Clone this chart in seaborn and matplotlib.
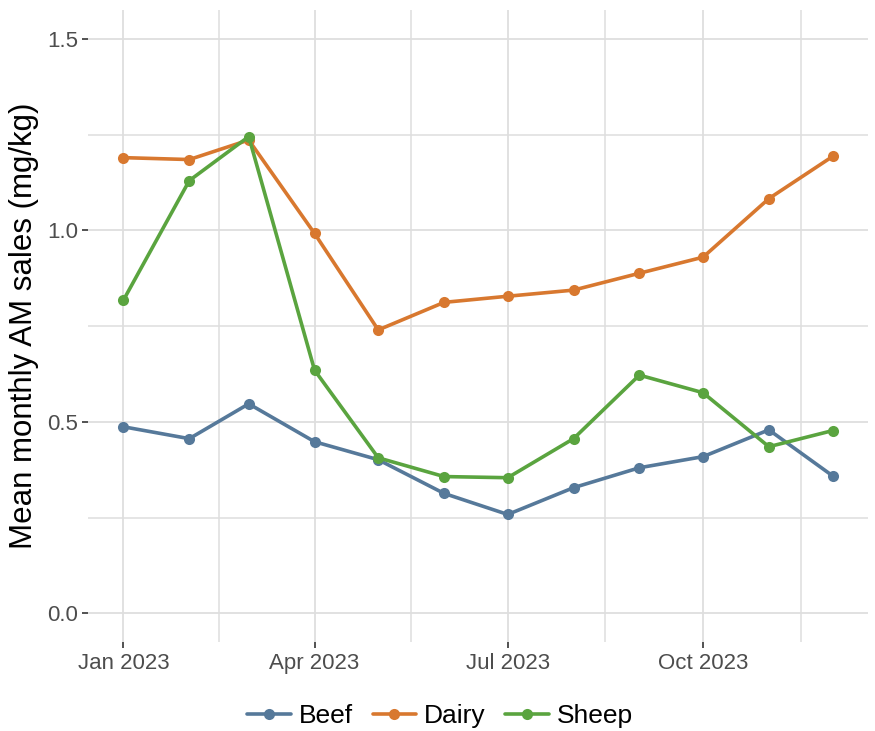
import pandas as pd
import numpy as np
import matplotlib
matplotlib.use("Agg")
import matplotlib.pyplot as plt
import matplotlib.dates as mdates
import seaborn as sns

# Monthly mean AM sales per sector
months = pd.date_range("2023-01-01", "2023-12-01", freq="MS")
beef = [0.487, 0.456, 0.547, 0.448, 0.401, 0.313, 0.258, 0.328, 0.380, 0.409, 0.479, 0.359]
dairy = [1.190, 1.185, 1.236, 0.992, 0.740, 0.812, 0.828, 0.844, 0.888, 0.930, 1.083, 1.193]
sheep = [0.818, 1.130, 1.245, 0.635, 0.406, 0.357, 0.354, 0.456, 0.622, 0.576, 0.435, 0.477]

sectors = ["Beef", "Dairy", "Sheep"]
colors = ["#56799a", "#d8782f", "#5aa43f"]

df = pd.DataFrame({
    "month": list(months) * 3,
    "sector": np.repeat(sectors, len(months)),
    "sales": beef + dairy + sheep,
})

sns.set_theme(style="white")
plt.rcParams["font.family"] = ["Liberation Sans", "DejaVu Sans"]

fig = plt.figure(figsize=(8.75, 7.31), dpi=100)
ax = fig.add_axes([0.1006, 0.1218, 0.8914, 0.8642])

sns.lineplot(data=df, x="month", y="sales", hue="sector", palette=colors,
             marker="o", markersize=8, markeredgewidth=0, linewidth=2.6, ax=ax)

# axis limits with ggplot-like 5% expansion
x0, x1 = mdates.date2num(months[0]), mdates.date2num(months[-1])
pad = (x1 - x0) * 0.05
ax.set_xlim(x0 - pad, x1 + pad)
ax.set_ylim(-0.075, 1.575)

major = pd.to_datetime(["2023-01-01", "2023-04-01", "2023-07-01", "2023-10-01"])
ax.set_xticks(mdates.date2num(major))
ax.xaxis.set_major_formatter(mdates.DateFormatter("%b %Y"))
mnum = list(mdates.date2num(major)) + [mdates.date2num(pd.Timestamp("2024-01-01"))]
ax.set_xticks([(a + b) / 2 for a, b in zip(mnum[:-1], mnum[1:])], minor=True)
ax.set_yticks([0.0, 0.5, 1.0, 1.5])
ax.set_yticks([0.25, 0.75, 1.25], minor=True)
ax.yaxis.set_major_formatter(matplotlib.ticker.FormatStrFormatter("%.1f"))

ax.grid(which="major", color="#dedede", linewidth=1.3)
ax.grid(which="minor", color="#dedede", linewidth=1.1)
ax.set_axisbelow(True)
for s in ax.spines.values():
    s.set_visible(False)

ax.tick_params(which="major", length=4, width=1.2, color="#333333",
               labelsize=16, labelcolor="#4d4d4d", pad=3)
ax.tick_params(which="minor", length=0)
ax.tick_params(axis="x", bottom=True, pad=4)
ax.tick_params(axis="y", left=True)

ax.set_xlabel("")
ax.set_ylabel("Mean monthly AM sales (mg/kg)", fontsize=22.5, color="black", labelpad=6)

handles, labels = ax.get_legend_handles_labels()
ax.get_legend().remove()
fig.legend(handles, labels, loc="center", bbox_to_anchor=(0.503, 1 - 716 / 731),
           ncol=3, frameon=False, fontsize=19, labelcolor="black",
           handlelength=1.65, handletextpad=0.3, columnspacing=0.75)

fig.savefig("out.png", dpi=100)
